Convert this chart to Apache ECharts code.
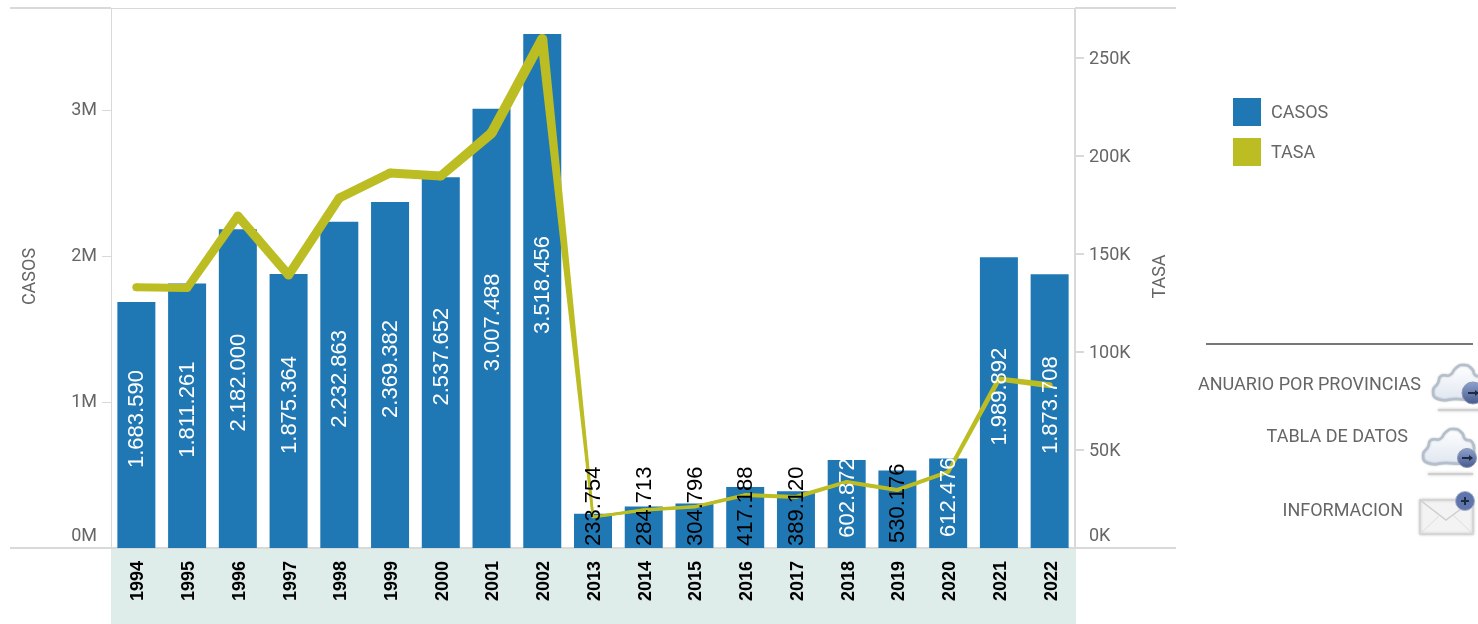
<!DOCTYPE html>
<html>
<head>
<meta charset="utf-8">
<style>
  html, body { margin: 0; padding: 0; background: #fff; }
  #chart { width: 1478px; height: 624px; }
</style>
<script src="https://cdn.jsdelivr.net/npm/echarts@6/dist/echarts.min.js"></script>
</head>
<body>
<div id="chart"></div>
<script>
const anios = ['1994','1995','1996','1997','1998','1999','2000','2001','2002','2013','2014','2015','2016','2017','2018','2019','2020','2021','2022'];
const casos = [1683590,1811261,2182000,1875364,2232863,2369382,2537652,3007488,3518456,233754,284713,304796,417188,389120,602872,530176,612476,1989892,1873708];
const tasa = [133000,132600,169400,139300,178600,191300,189800,211700,259700,15800,19400,21000,27000,26000,33700,29600,38800,86200,83000];
// the original line gets thinner after 2002
const tasaGrosor = [8,8,9,9,9,9,9,10,10,2.5,3.5,3.5,4,4,4,4,4,5,6];

const AZUL = '#1f77b4';
const OLIVA = '#bcbd22';
const GRIS = '#d9d9d9';
const TEXTO = '#666666';

const puntoMiles = v => String(v).replace(/\B(?=(\d{3})+$)/g, '.');

// rotated labels: offset is in the label's own frame, so +x moves it up the bar
const etiquetas = casos.map(v => ({
  value: v,
  label: v < 500000
    ? { position: 'insideBottom', distance: 2, offset: [0, 1], align: 'left', verticalAlign: 'middle', color: '#000' }
    : { position: 'inside', offset: [6, 1], color: v < 600000 ? '#000' : '#fff' }
}));

// line with a width per point, same scales as the TASA axis
function tramoTasa(params, api) {
  const i = api.value(0);
  const a = api.coord([i, api.value(1)]);
  const ra = tasaGrosor[i] / 2;
  const hijos = [{ type: 'circle', shape: { cx: a[0], cy: a[1], r: ra }, style: { fill: OLIVA } }];
  if (i < tasa.length - 1) {
    const b = api.coord([i + 1, tasa[i + 1]]);
    const rb = tasaGrosor[i + 1] / 2;
    const len = Math.hypot(b[0] - a[0], b[1] - a[1]);
    const nx = -(b[1] - a[1]) / len;
    const ny = (b[0] - a[0]) / len;
    hijos.push({
      type: 'polygon',
      shape: { points: [
        [a[0] + nx * ra, a[1] + ny * ra],
        [b[0] + nx * rb, b[1] + ny * rb],
        [b[0] - nx * rb, b[1] - ny * rb],
        [a[0] - nx * ra, a[1] - ny * ra]
      ] },
      style: { fill: OLIVA }
    });
  }
  return { type: 'group', children: hijos };
}

function textoLateral(texto, xFin, y) {
  return {
    type: 'text', x: xFin, y: y,
    style: { text: texto, align: 'right', verticalAlign: 'middle', fill: TEXTO, font: '18px Roboto' }
  };
}

function nube(x, y, cx, cy, r) {
  const relleno = { type: 'linear', x: 0, y: 0, x2: 0, y2: 1, colorStops: [{ offset: 0, color: '#ffffff' }, { offset: 1, color: '#dfe6f0' }] };
  const disco = { type: 'linear', x: 0, y: 0, x2: 0, y2: 1, colorStops: [{ offset: 0, color: '#8ea3cf' }, { offset: 1, color: '#47598c' }] };
  return {
    type: 'group', x: x, y: y,
    children: [
      { type: 'rect', shape: { x: 6, y: 46, width: 45, height: 2 }, style: { fill: '#d0d0d0', shadowBlur: 3, shadowColor: 'rgba(0,0,0,0.25)' } },
      { type: 'polygon',
        shape: { smooth: 0.6, points: [[6, 36], [1, 28], [6, 20], [9, 13], [18, 12], [24, 5], [32, 2], [40, 6], [43, 12], [50, 15], [52, 24], [50, 32], [42, 36], [24, 36]] },
        style: { fill: relleno, stroke: '#b5bfcc', lineWidth: 2.5, shadowBlur: 2, shadowColor: 'rgba(90,100,120,0.4)' } },
      { type: 'circle', shape: { cx: cx, cy: cy, r: r }, style: { fill: disco, stroke: '#8b97b5', lineWidth: 1 } },
      { type: 'line', shape: { x1: cx - 5, y1: cy, x2: cx + 5, y2: cy }, style: { stroke: '#1e2a44', lineWidth: 2 } },
      { type: 'polygon', shape: { points: [[cx + 6, cy], [cx + 2, cy - 3], [cx + 2, cy + 3]] }, style: { fill: '#1e2a44' } }
    ]
  };
}

const sobre = {
  type: 'group', x: 1420, y: 500,
  children: [
    { type: 'rect', shape: { x: 0, y: 0, width: 53, height: 34 }, style: { fill: '#f3f3f3', stroke: '#d2d2d2', lineWidth: 1.5, shadowBlur: 3, shadowColor: 'rgba(0,0,0,0.2)' } },
    { type: 'polyline', shape: { points: [[0, 0], [26, 20], [53, 0]] }, style: { fill: 'none', stroke: '#cfcfcf', lineWidth: 1.5 } },
    { type: 'polyline', shape: { points: [[0, 34], [20, 15]] }, style: { fill: 'none', stroke: '#dddddd', lineWidth: 1 } },
    { type: 'polyline', shape: { points: [[53, 34], [33, 15]] }, style: { fill: 'none', stroke: '#dddddd', lineWidth: 1 } },
    { type: 'circle', shape: { cx: 45, cy: 1, r: 9.5 }, style: { fill: '#5f75ac', stroke: '#a6b1cc', lineWidth: 1 } },
    { type: 'line', shape: { x1: 41, y1: 1, x2: 49, y2: 1 }, style: { stroke: '#1e2a44', lineWidth: 2 } },
    { type: 'line', shape: { x1: 45, y1: -3, x2: 45, y2: 5 }, style: { stroke: '#1e2a44', lineWidth: 2 } }
  ]
};

// tick labels sit 1px lower than the default middle, the zero label is lifted off the axis
const etiquetaEje = {
  color: TEXTO, fontSize: 18, margin: 14, showMaxLabel: false,
  verticalAlign: 'top', lineHeight: 2, verticalAlignMinLabel: 'bottom',
  rich: { cero: { lineHeight: 24 } }
};

const chart = echarts.init(document.getElementById('chart'));
chart.setOption({
  animation: false,
  textStyle: { fontFamily: 'Roboto' },
  grid: { left: 111, top: 9, width: 964, height: 539, containLabel: false },
  legend: {
    data: ['CASOS', 'TASA'],
    orient: 'vertical', left: 1233, top: 98, padding: 0,
    icon: 'rect', itemWidth: 28, itemHeight: 28, itemGap: 12,
    formatter: '{t|{name}}',
    textStyle: { color: TEXTO, fontSize: 18, padding: [0, 0, 0, 5], fontFamily: 'Roboto', rich: { t: { padding: [2, 0, 0, 0] } } }
  },
  xAxis: {
    type: 'category',
    data: anios,
    z: 1,
    axisLine: { lineStyle: { color: GRIS, width: 2 } },
    axisTick: { length: 9, lineStyle: { color: GRIS, width: 2 } },
    axisLabel: { rotate: 90, interval: 0, margin: 13, color: '#000', fontWeight: 'bold', fontSize: 18, fontFamily: 'Liberation Sans', verticalAlign: 'top', lineHeight: 4 }
  },
  yAxis: [
    {
      type: 'value', min: 0, max: 3690000, interval: 1000000,
      name: 'CASOS', nameLocation: 'middle', nameGap: 72, nameRotate: 90,
      nameTextStyle: { color: TEXTO, fontSize: 18, fontFamily: 'Roboto', padding: [0, 0, 0, 4] },
      splitLine: { show: false },
      axisLine: { show: true, lineStyle: { color: GRIS, width: 1 } },
      axisTick: { show: true, length: 9, lineStyle: { color: GRIS, width: 1 } },
      axisLabel: { ...etiquetaEje, formatter: v => v === 0 ? '{cero|0M}' : (v / 1000000) + 'M' }
    },
    {
      type: 'value', min: 0, max: 275000, interval: 50000,
      name: 'TASA', nameLocation: 'middle', nameGap: 76, nameRotate: 90,
      nameTextStyle: { color: TEXTO, fontSize: 18, fontFamily: 'Roboto', padding: [0, 0, 0, 4] },
      splitLine: { show: false },
      axisLine: { show: true, lineStyle: { color: GRIS, width: 2 } },
      axisTick: { show: true, length: 9, lineStyle: { color: GRIS, width: 2 } },
      axisLabel: { ...etiquetaEje, formatter: v => v === 0 ? '{cero|0K}' : (v / 1000) + 'K' }
    }
  ],
  series: [
    {
      name: 'CASOS', type: 'bar', z: 2, barWidth: 38, barGap: '-100%',
      itemStyle: { color: AZUL },
      data: casos
    },
    {
      // clear bars on top, only to keep the numbers above the line
      name: 'CASOS etiquetas', type: 'bar', z: 5, barWidth: 38, barGap: '-100%',
      itemStyle: { color: 'rgba(0,0,0,0)' },
      label: {
        show: true, rotate: 90, fontSize: 22, fontFamily: 'Liberation Sans',
        formatter: p => puntoMiles(p.value)
      },
      data: etiquetas
    },
    {
      name: 'TASA', type: 'line', z: 3, yAxisIndex: 1,
      showSymbol: false, itemStyle: { color: OLIVA },
      lineStyle: { color: OLIVA, width: 2.5 },
      data: tasa
    },
    {
      name: 'TASA grosor', type: 'custom', z: 4, yAxisIndex: 1,
      renderItem: tramoTasa,
      encode: { x: 0, y: 1 },
      data: tasa.map((v, i) => [i, v])
    }
  ],
  graphic: { elements: [
    { type: 'rect', z: -1, shape: { x: 111, y: 549, width: 965, height: 75 }, style: { fill: '#dfedea' } },
    { type: 'line', shape: { x1: 10, y1: 8, x2: 111, y2: 8 }, style: { stroke: GRIS, lineWidth: 2 } },
    { type: 'line', shape: { x1: 111, y1: 8.5, x2: 1075, y2: 8.5 }, style: { stroke: GRIS, lineWidth: 1 } },
    { type: 'line', shape: { x1: 1075, y1: 8, x2: 1176, y2: 8 }, style: { stroke: GRIS, lineWidth: 2 } },
    { type: 'line', shape: { x1: 10, y1: 548, x2: 111, y2: 548 }, style: { stroke: GRIS, lineWidth: 2 } },
    { type: 'line', shape: { x1: 1075, y1: 548, x2: 1176, y2: 548 }, style: { stroke: GRIS, lineWidth: 2 } },
    { type: 'line', shape: { x1: 1206, y1: 344, x2: 1473, y2: 344 }, style: { stroke: '#777777', lineWidth: 2 } },
    textoLateral('ANUARIO POR PROVINCIAS', 1421, 385),
    textoLateral('TABLA DE DATOS', 1408, 437),
    textoLateral('INFORMACION', 1403, 511),
    nube(1432, 363, 41, 30, 11),
    nube(1422, 427, 45, 31, 9.5),
    sobre
  ] }
});
</script>
</body>
</html>
